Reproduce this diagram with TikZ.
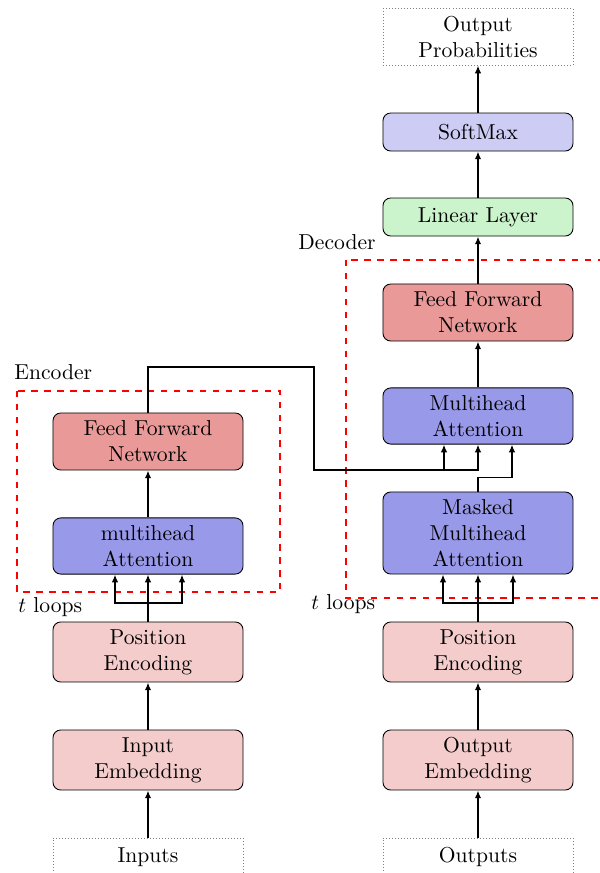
\documentclass[tikz,border=0pt]{standalone}
\usetikzlibrary{arrows.meta,calc}
\definecolor{ffncol}{HTML}{EA9999}
\definecolor{mhacol}{HTML}{9999EA}
\definecolor{pecol}{HTML}{F4CCCC}
\definecolor{smcol}{HTML}{CCCCF4}
\definecolor{llcol}{HTML}{CCF4CC}
\tikzset{
  blk/.style={draw=black, thin, rounded corners=3.6pt, minimum width=88pt, align=center, inner sep=0pt},
  ffnbox/.style={blk, fill=ffncol},
  mhabox/.style={blk, fill=mhacol},
  pebox/.style={blk, fill=pecol},
  smbox/.style={blk, fill=smcol},
  llbox/.style={blk, fill=llcol},
  iobox/.style={draw=gray, densely dotted, thin, minimum width=88pt, align=center, inner sep=0pt},
  arr/.style={line width=0.8pt, -{Latex[length=3.6pt,width=3pt]}},
  ln/.style={line width=0.8pt},
  dashbox/.style={draw=red, dashed, line width=0.7pt},
  lbl/.style={anchor=west, inner sep=0pt}
}
\begin{document}
\begin{tikzpicture}[x=0.463pt, y=-0.463pt]
\useasboundingbox (0,0) rectangle (600,873);
\clip (0,0) rectangle (600,873);
% encoder column
\node[ffnbox, minimum height=26.4pt] (effn) at (148,441.5) {Feed Forward\\Network};
\node[mhabox, minimum height=26pt] (emha) at (148,546) {multihead\\Attention};
\node[pebox, minimum height=27.8pt] (epe) at (148,652) {Position\\Encoding};
\node[pebox, minimum height=27.8pt] (eie) at (148,760) {Input\\Embedding};
\node[iobox, minimum height=17.6pt] (inp) at (148,857) {Inputs};
% decoder column
\node[iobox, minimum height=26pt] (outp) at (478,37) {Output\\Probabilities};
\node[smbox, minimum height=17.6pt] (soft) at (478,132) {SoftMax};
\node[llbox, minimum height=17.6pt] (lin) at (478,217) {Linear Layer};
\node[ffnbox, minimum height=26.4pt] (dffn) at (478,312.5) {Feed Forward\\Network};
\node[mhabox, minimum height=26pt] (dmha) at (478,416) {Multihead\\Attention};
\node[mhabox, minimum height=38pt] (mask) at (478,533) {Masked\\Multihead\\Attention};
\node[pebox, minimum height=27.8pt] (dpe) at (478,652) {Position\\Encoding};
\node[pebox, minimum height=27.8pt] (die) at (478,760) {Output\\Embedding};
\node[iobox, minimum height=17.6pt] (outs) at (478,857) {Outputs};
% dashed frames
\draw[dashbox] (17,391) rectangle (280,592);
\draw[dashbox] (346,260) rectangle (610,598);
\node[lbl] (enclbl) at (14,372) {Encoder};
\node[lbl] (declbl) at (298,242) {Decoder};
\node[lbl] (eloop) at (18,607) {$t$ loops};
\node[lbl] (dloop) at (311,604) {$t$ loops};
% encoder connectors
\draw[arr] (inp) -- (eie);
\draw[arr] (eie) -- (epe);
\draw[arr] (epe.north) -- (emha.south);
\coordinate (ej) at (148,603);
\draw[arr] (ej) -| ($(emha.south)+(-33,0)$);
\draw[arr] (ej) -| ($(emha.south)+(34,0)$);
\draw[arr] (emha) -- (effn);
% cross connector
\coordinate (c1) at (314,367);
\coordinate (c2) at (314,470);
\draw[arr] (effn.north) |- (c1) -- (c2) -| ($(dmha.south)+(-34,0)$);
\draw[arr] (c2) -| (dmha.south);
% decoder connectors
\draw[arr] (outs) -- (die);
\draw[arr] (die) -- (dpe);
\draw[arr] (dpe.north) -- (mask.south);
\coordinate (dj) at (478,603);
\draw[arr] (dj) -| ($(mask.south)+(-35,0)$);
\draw[arr] (dj) -| ($(mask.south)+(35,0)$);
\draw[arr] (mask.north) -- ++(0,-14) -| ($(dmha.south)+(34,0)$);
\draw[arr] (dmha) -- (dffn);
\draw[arr] (dffn) -- (lin);
\draw[arr] (lin) -- (soft);
\draw[arr] (soft) -- (outp);
\end{tikzpicture}
\end{document}
